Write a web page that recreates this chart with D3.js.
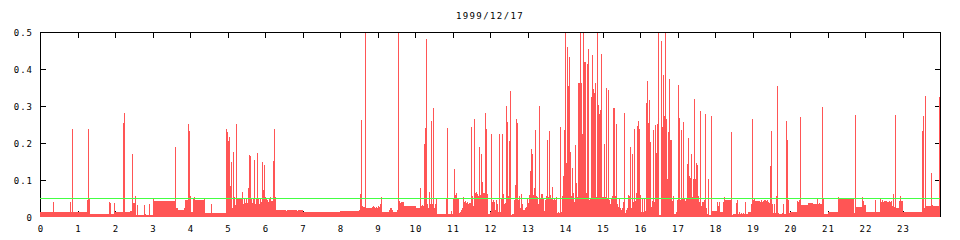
<!DOCTYPE html>
<html>
<head>
<meta charset="utf-8">
<script src="https://cdn.jsdelivr.net/npm/d3@7"></script>
<style>
body { margin: 0; background: #fff; }
svg text { font-family: "DejaVu Sans Mono", monospace; font-size: 9px; letter-spacing: 1px; fill: #000; }
</style>
</head>
<body>
<svg id="chart"></svg>
<script>
var width = 960;
var height = 240;

var dateLabel = "1999/12/17";
var hourTicks = d3.range(0, 24);
var valueTicks = [0, 0.1, 0.2, 0.3, 0.4, 0.5];
var threshold = 0.05;

// [minute of day, value] - each value holds until the next sample
var night = [[0,0.014],[20.8,0.041],[22.4,0.014],[48,0.041],[49.6,0.014],[51.2,0.239],[52.8,0.014],[75.2,0.047],[76.8,0.239],[78.4,0.051],[80,0.009],
    [110.4,0.041],[112,0.039],[113.6,0.009],[118.4,0.039],[120,0.014],[132.8,0.255],[134.4,0.282],[136,0.014],[144,0.017],[147.2,0.171],[148.8,0.039],
    [152,0.058],[153.6,0.006],[155.2,0.033],[156.8,0.006],[166.4,0.033],[168,0.009],[169.6,0.006],[174.4,0.036],[176,0.006],[180.8,0.051],[182.4,0.044],
    [216,0.19],[217.6,0.023],[220.8,0.02],[230.4,0.025],[232,0.047],[236.8,0.252],[238.4,0.233],[240,0.056],[241.6,0.014],[244.8,0.05],[246.4,0.055],
    [248,0.047],[262.4,0.052],[264,0.012],[273.6,0.036],[275.2,0.012],[297.6,0.239],[299.2,0.231],[300.8,0.206],[302.4,0.217],[304,0.085],[305.6,0.15],
    [307.2,0.023],[308.8,0.177],[310.4,0.055],[312,0.033],[313.6,0.252],[315.2,0.052],[316.8,0.05],[318.4,0.052],[320,0.05],[323.2,0.068],[324.8,0.036],
    [326.4,0.052],[328,0.039],[329.6,0.052],[331.2,0.039],[332.8,0.079],[334.4,0.168],[336,0.166],[337.6,0.052],[339.2,0.039],[340.8,0.052],[342.4,0.155],
    [344,0.036],[345.6,0.052],[347.2,0.174],[348.8,0.052],[350.4,0.036],[352,0.052],[353.6,0.041],[355.2,0.15],[356.8,0.074],[358.4,0.141],[360,0.055],
    [361.6,0.052],[363.2,0.047],[364.8,0.041],[366.4,0.05],[368,0.055],[369.6,0.044],[372.8,0.152],[374.4,0.239],[376,0.055],[377.6,0.02],[393.6,0.017],
    [395.2,0.02],[411.2,0.017],[412.8,0.02],[420.8,0.014]];

var morning = [[480,0.017],[510.4,0.02],[512,0.063],[513.6,0.263],[515.2,0.031],[516.8,0.028],[520,0.5],[521.6,0.025],[531.2,0.028],[532.8,0.031],
    [534.4,0.028],[536,0.025],[537.6,0.028],[539.2,0.023],[540.8,0.031],[542.4,0.028],[544,0.036],[545.6,0.055],[547.2,0.014],[558.4,0.02],[560,0.023],
    [563.2,0.02],[564.8,0.014],[571.2,0.02],[572.8,0.5],[574.4,0.044],[576,0.039],[577.6,0.041],[582.4,0.031],[601.6,0.023],[608,0.079],[609.6,0.031],
    [611.2,0.033],[612.8,0.031],[614.4,0.198],[616,0.241],[617.6,0.482],[619.2,0.036],[620.8,0.025],[622.4,0.068],[624,0.036],[625.6,0.26],[627.2,0.036],
    [628.8,0.295],[630.4,0.025],[632,0.036],[633.6,0.052],[635.2,0.009],[649.6,0.052],[651.2,0.241],[652.8,0.009],[657.6,0.017],[659.2,0.009],[660.8,0.052],
    [662.4,0.131],[664,0.06],[665.6,0.066],[667.2,0.052],[670.4,0.012],[672,0.014],[673.6,0.02],[675.2,0.025],[676.8,0.055],[678.4,0.041],[680,0.044],
    [681.6,0.039],[683.2,0.041],[684.8,0.036],[686.4,0.039],[689.6,0.244],[691.2,0.058],[692.8,0.031],[694.4,0.266],[696,0.066],[697.6,0.068],[699.2,0.063],
    [700.8,0.058],[702.4,0.19],[704,0.06],[705.6,0.171],[707.2,0.095],[708.8,0.066],[712,0.282],[713.6,0.239],[715.2,0.063],[716.8,0.009]];

var afternoon = [[720,0.014],[721.6,0.223],[723.2,0.041],[724.8,0.047],[726.4,0.041],[728,0.02],[729.6,0.047],[731.2,0.036],[732.8,0.014],[734.4,0.223],
    [736,0.014],[737.6,0.052],[739.2,0.223],[740.8,0.063],[742.4,0.036],[744,0.039],[745.6,0.3],[747.2,0.258],[748.8,0.058],[750.4,0.206],[752,0.341],
    [753.6,0.006],[755.2,0.009],[758.4,0.047],[760,0.087],[761.6,0.266],[763.2,0.255],[764.8,0.047],[766.4,0.058],[768,0.025],[769.6,0.063],[771.2,0.036],
    [772.8,0.02],[776,0.025],[777.6,0.028],[779.2,0.052],[780.8,0.039],[782.4,0.06],[784,0.123],[785.6,0.185],[787.2,0.171],[788.8,0.06],[790.4,0.079],
    [792,0.236],[793.6,0.058],[795.2,0.055],[796.8,0.036],[798.4,0.3],[800,0.052],[801.6,0.063],[804.8,0.052],[806.4,0.017],[808,0.047],[809.6,0.058],
    [811.2,0.209],[812.8,0.055],[814.4,0.233],[816,0.06],[817.6,0.052],[819.2,0.082],[820.8,0.047],[822.4,0.052],[824,0.047],[825.6,0.055],[827.2,0.012],
    [828.8,0.014],[830.4,0.012],[832,0.244],[833.6,0.014],[835.2,0.058],[836.8,0.112],[838.4,0.236],[840,0.5],[841.6,0.147],[843.2,0.46],[844.8,0.355],
    [846.4,0.433],[848,0.177],[849.6,0.058],[851.2,0.133],[852.8,0.066],[854.4,0.041],[856,0.195],[857.6,0.093],[859.2,0.055],[860.8,0.363],[864,0.5],
    [865.6,0.363],[867.2,0.225],[868.8,0.5],[870.4,0.42],[873.6,0.066],[875.2,0.414],[876.8,0.455],[878.4,0.047],[880,0.052],[881.6,0.323],[883.2,0.439],
    [884.8,0.347],[886.4,0.336],[888,0.363],[889.6,0.055],[891.2,0.5],[892.8,0.304],[894.4,0.279],[896,0.29],[897.6,0.441],[899.2,0.055],[902.4,0.198],
    [904,0.055],[905.6,0.35],[907.2,0.052],[908.8,0.344],[910.4,0.047],[912,0.036],[913.6,0.052],[915.2,0.058],[916.8,0.295],[920,0.058],[921.6,0.252],
    [923.2,0.036],[924.8,0.028],[926.4,0.05],[928,0.023],[929.6,0.02],[931.2,0.025],[932.8,0.041],[934.4,0.282],[936,0.012],[937.6,0.02],[939.2,0.025],
    [940.8,0.06],[942.4,0.058],[944,0.19],[945.6,0.023],[947.2,0.171],[948.8,0.041],[950.4,0.239],[952,0.044],[953.6,0.066],[955.2,0.247],[956.8,0.26],
    [958.4,0.239],[960,0.06],[961.6,0.014],[963.2,0.05],[964.8,0.014],[966.4,0.05],[968,0.017],[969.6,0.309],[971.2,0.368],[972.8,0.255],[974.4,0.317],
    [976,0.204],[977.6,0.028],[979.2,0.044],[980.8,0.236],[982.4,0.041],[984,0.25],[985.6,0.174],[987.2,0.252],[988.8,0.5],[990.4,0.006],[993.6,0.477],
    [995.2,0.244],[996.8,0.385],[998.4,0.274],[1000,0.5],[1001.6,0.266],[1003.2,0.104],[1004.8,0.231],[1006.4,0.374],[1008,0.209],[1011.2,0.044],
    [1012.8,0.058],[1014.4,0.009],[1017.6,0.014],[1019.2,0.047],[1020.8,0.358],[1022.4,0.268],[1024,0.047],[1025.6,0.236],[1027.2,0.052],[1028.8,0.258],
    [1030.4,0.052],[1032,0.044],[1033.6,0.052],[1035.2,0.144],[1036.8,0.214],[1038.4,0.112],[1040,0.106],[1041.6,0.171],[1043.2,0.055],[1044.8,0.104],
    [1046.4,0.32],[1048,0.104],[1049.6,0.147],[1051.2,0.141],[1052.8,0.058],[1054.4,0.041],[1056,0.287],[1057.6,0.031],[1059.2,0.041],[1062.4,0.047],
    [1064,0.279],[1065.6,0.023],[1067.2,0.009],[1068.8,0.104],[1070.4,0.006],[1073.6,0.274],[1075.2,0.017]];

var evening = [[1083.2,0.041],[1084.8,0.031],[1086.4,0.041],[1088,0.014],[1092.8,0.041],[1094.4,0.055],[1096,0.047],[1105.6,0.231],[1107.2,0.006],
    [1108.8,0.009],[1113.6,0.039],[1115.2,0.047],[1116.8,0.009],[1118.4,0.014],[1120,0.009],[1121.6,0.012],[1123.2,0.009],[1124.8,0.012],[1126.4,0.009],
    [1128,0.041],[1129.6,0.009],[1132.8,0.014],[1137.6,0.036],[1139.2,0.266],[1140.8,0.047],[1142.4,0.052],[1144,0.044],[1152,0.041],[1153.6,0.047],
    [1155.2,0.041],[1156.8,0.044],[1158.4,0.047],[1161.6,0.044],[1163.2,0.047],[1164.8,0.041],[1166.4,0.039],[1168,0.139],[1169.6,0.233],[1171.2,0.036],
    [1172.8,0.012],[1174.4,0.036],[1176,0.012],[1177.6,0.058],[1179.2,0.355],[1180.8,0.012],[1182.4,0.009],[1187.2,0.012],[1188.8,0.036],[1190.4,0.009],
    [1193.6,0.26],[1195.2,0.209],[1196.8,0.047],[1198.4,0.012],[1200,0.014],[1211.2,0.044],[1212.8,0.041],[1214.4,0.047],[1216,0.271],[1217.6,0.033],
    [1228.8,0.039],[1236.8,0.036],[1243.2,0.05],[1244.8,0.036],[1246.4,0.039],[1248,0.036],[1251.2,0.298],[1252.8,0.05],[1254.4,0.009],[1260.8,0.014],
    [1276.8,0.055],[1278.4,0.05],[1300.8,0.052],[1302.4,0.012],[1304,0.277],[1305.6,0.028],[1315.2,0.055],[1316.8,0.044],[1318.4,0.033],[1321.6,0.014],
    [1336,0.047],[1337.6,0.014],[1344,0.052],[1345.6,0.041],[1347.2,0.047],[1348.8,0.041],[1350.4,0.044],[1355.2,0.041],[1358.4,0.044],[1360,0.041],
    [1361.6,0.044],[1363.2,0.031],[1364.8,0.063],[1366.4,0.028],[1368,0.277],[1369.6,0.025],[1371.2,0.023],[1372.8,0.025],[1374.4,0.044],[1376,0.058],
    [1377.6,0.044],[1380.8,0.014],[1411.2,0.233],[1412.8,0.274],[1414.4,0.025],[1416,0.328],[1417.6,0.031],[1425.6,0.12],[1427.2,0.033],[1428.8,0.031],
    [1438.4,0.323]];

var samples = night.concat(morning, afternoon, evening);
samples.push([1440, samples[samples.length - 1][1]]);

var x = d3.scaleLinear().domain([0, 1440]).range([40, 940]);
var y = d3.scaleLinear().domain([0, 0.5]).range([217, 32]);

var svg = d3.select("#chart")
    .attr("width", width)
    .attr("height", height)
    .attr("xmlns", "http://www.w3.org/2000/svg");

svg.append("text")
    .attr("x", (x(0) + x(1440)) / 2)
    .attr("y", 19)
    .attr("text-anchor", "middle")
    .style("letter-spacing", "1.4px")
    .text(dateLabel);

// frame with inward ticks on all four sides
var frame = svg.append("g").attr("shape-rendering", "crispEdges");
frame.append("rect")
    .attr("x", x(0) + 0.5)
    .attr("y", y(0.5) + 0.5)
    .attr("width", x(1440) - x(0))
    .attr("height", y(0) - y(0.5) - 1)
    .attr("fill", "none")
    .attr("stroke", "#000");

var hourMinutes = hourTicks.map(function (h) { return h * 60; });
frame.selectAll(".tickTop")
    .data(hourMinutes.slice(1))
    .enter()
    .append("line")
    .attr("x1", function (d) { return x(d) + 0.5; })
    .attr("x2", function (d) { return x(d) + 0.5; })
    .attr("y1", y(0.5))
    .attr("y2", y(0.5) + 6)
    .attr("stroke", "#000");
frame.selectAll(".tickBottom")
    .data(hourMinutes.slice(1))
    .enter()
    .append("line")
    .attr("x1", function (d) { return x(d) + 0.5; })
    .attr("x2", function (d) { return x(d) + 0.5; })
    .attr("y1", y(0))
    .attr("y2", y(0) - 6)
    .attr("stroke", "#000");
frame.selectAll(".tickLeft")
    .data(valueTicks.slice(1, 5))
    .enter()
    .append("line")
    .attr("x1", x(0))
    .attr("x2", x(0) + 6)
    .attr("y1", function (d) { return y(d) + 0.5; })
    .attr("y2", function (d) { return y(d) + 0.5; })
    .attr("stroke", "#000");
frame.selectAll(".tickRight")
    .data(valueTicks.slice(1, 5))
    .enter()
    .append("line")
    .attr("x1", x(1440) + 1)
    .attr("x2", x(1440) - 5)
    .attr("y1", function (d) { return y(d) + 0.5; })
    .attr("y2", function (d) { return y(d) + 0.5; })
    .attr("stroke", "#000");

svg.selectAll(".hourLabel")
    .data(hourTicks)
    .enter()
    .append("text")
    .attr("x", function (d) { return x(d * 60) + 1; })
    .attr("y", 232)
    .attr("text-anchor", "middle")
    .text(function (d) { return d; });

svg.selectAll(".valueLabel")
    .data(valueTicks)
    .enter()
    .append("text")
    .attr("x", 33)
    .attr("y", function (d) { return y(d) + 3.5; })
    .attr("text-anchor", "end")
    .text(function (d) { return d === 0 ? "0" : d3.format(".1f")(d); });

// data
svg.append("clipPath")
    .attr("id", "plotClip")
    .append("rect")
    .attr("x", x(0))
    .attr("y", y(0.5) + 1)
    .attr("width", x(1440) - x(0))
    .attr("height", y(0) - y(0.5) - 1);

var area = d3.area()
    .x(function (d) { return x(d[0]); })
    .y0(y(0))
    .y1(function (d) { return y(d[1]); })
    .curve(d3.curveStepAfter);

svg.append("path")
    .datum(samples)
    .attr("clip-path", "url(#plotClip)")
    .attr("shape-rendering", "crispEdges")
    .attr("fill", "#ff5555")
    .attr("d", area);

svg.append("rect")
    .attr("x", x(0))
    .attr("y", Math.floor(y(threshold)))
    .attr("width", x(1440) - x(0))
    .attr("height", 1)
    .attr("shape-rendering", "crispEdges")
    .attr("fill", "#44ff44");
</script>
</body>
</html>
